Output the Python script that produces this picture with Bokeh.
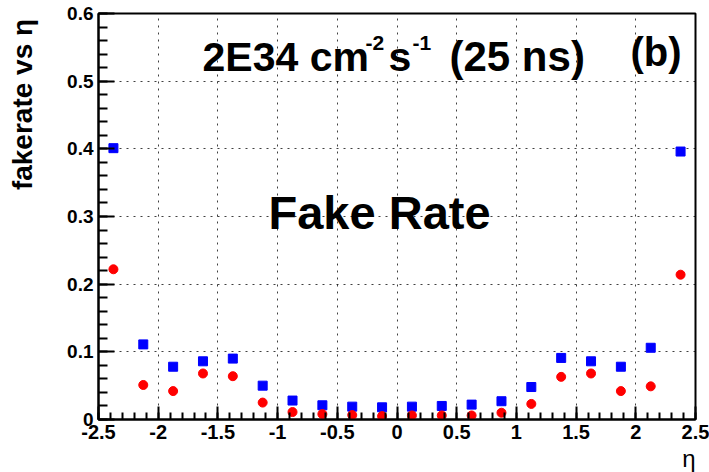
import numpy as np
from bokeh.plotting import figure
from bokeh.models import FixedTicker, Label, Range1d, Title
from bokeh.embed import file_html
from bokeh.resources import INLINE

# ---- data ----
eta = [-2.375, -2.125, -1.875, -1.625, -1.375, -1.125, -0.875, -0.625, -0.375, -0.125,
       0.125, 0.375, 0.625, 0.875, 1.125, 1.375, 1.625, 1.875, 2.125, 2.375]
fake_blue = [0.401, 0.111, 0.078, 0.086, 0.090, 0.050, 0.028, 0.021, 0.019, 0.018,
             0.019, 0.020, 0.022, 0.027, 0.048, 0.091, 0.086, 0.078, 0.106, 0.396]
fake_red = [0.222, 0.051, 0.042, 0.068, 0.064, 0.025, 0.011, 0.008, 0.0065, 0.005,
            0.006, 0.006, 0.006, 0.010, 0.023, 0.063, 0.068, 0.042, 0.049, 0.214]
x_ticks = [-2.5, -2.0, -1.5, -1.0, -0.5, 0.0, 0.5, 1.0, 1.5, 2.0, 2.5]
x_tick_labels = ["-2.5", "-2", "-1.5", "-1", "-0.5", "0", "0.5", "1", "1.5", "2", "2.5"]
y_ticks = [0.0, 0.1, 0.2, 0.3, 0.4, 0.5, 0.6]
y_tick_labels = ["0", "0.1", "0.2", "0.3", "0.4", "0.5", "0.6"]

# ---- geometry (window pixels; the figure sits at the page origin) ----
W, H = 709, 472
FL, FR, FT, FB = 98, 695, 13, 422   # frame edges
X0, X1, Y0, Y1 = -2.5, 2.5, 0.0, 0.6

def wx(px):
    return X0 + (px - FL) / (FR - FL) * (X1 - X0)

def wy(py):
    return Y0 + (FB - py) / (FB - FT) * (Y1 - Y0)

FONT = "Liberation Sans"

p = figure(width=W, height=H, x_range=Range1d(X0, X1), y_range=Range1d(Y0, Y1),
           output_backend="svg", toolbar_location=None,
           min_border_left=FL, min_border_right=W - FR,
           min_border_top=FT, min_border_bottom=H - FB)
p.background_fill_color = "white"
p.border_fill_color = "white"
p.outline_line_color = "black"
p.outline_line_width = 2

x_minor = [float(v) for v in np.round(np.arange(-2.5, 2.5001, 0.1), 3)]
y_minor = [float(v) for v in np.round(np.arange(0.0, 0.6001, 0.02), 3)]
p.xaxis.ticker = FixedTicker(ticks=x_ticks, minor_ticks=x_minor)
p.yaxis.ticker = FixedTicker(ticks=y_ticks, minor_ticks=y_minor)
p.xgrid.ticker = FixedTicker(ticks=x_ticks)
p.ygrid.ticker = FixedTicker(ticks=y_ticks)
p.xaxis.major_label_overrides = {t: l for t, l in zip(x_ticks, x_tick_labels)}
p.yaxis.major_label_overrides = {t: l for t, l in zip(y_ticks, y_tick_labels)}

for ax in (p.xaxis, p.yaxis):
    ax.axis_line_color = "black"
    ax.axis_line_width = 2
    ax.major_tick_line_color = "black"
    ax.major_tick_line_width = 2
    ax.minor_tick_line_color = "black"
    ax.minor_tick_line_width = 2
    ax.major_tick_out = 0
    ax.minor_tick_out = 0
    ax.major_label_text_font = FONT
    ax.major_label_text_font_style = "bold"
    ax.major_label_text_color = "black"
    ax.major_label_standoff = 5
p.yaxis.major_label_text_font_size = "19px"
p.xaxis.major_label_text_font_size = "20px"
p.yaxis.major_tick_in = 16
p.yaxis.minor_tick_in = 9
p.xaxis.major_tick_in = 13
p.xaxis.minor_tick_in = 7

# y-axis title: centred label, lifted towards the top with leading blank space
p.yaxis.axis_label = "\u2003" * 8 + "fakerate vs η"
p.yaxis.axis_label_text_font = FONT
p.yaxis.axis_label_text_font_style = "bold"
p.yaxis.axis_label_text_font_size = "28px"
p.yaxis.axis_label_text_color = "black"
p.yaxis.axis_label_standoff = 26

for g in (p.xgrid, p.ygrid):
    g.grid_line_color = "black"
    g.grid_line_alpha = 0.75
    g.grid_line_width = 1
    g.grid_line_dash = "2 5"

p.scatter(eta, fake_blue, marker="square", size=9, color="blue")
p.scatter(eta, fake_red, marker="circle", size=9, color="red")

def lab(text, px, py, size, **kw):
    # py is the wanted baseline; the renderer draws it about 0.4 em lower
    p.add_layout(Label(x=wx(px), y=wy(py - 0.4 * size), text=text, text_font=FONT,
                       text_font_style=kw.pop("style", "bold"),
                       text_font_size=f"{size}px", text_color="black",
                       text_baseline="alphabetic",
                       text_align=kw.pop("align", "left"), **kw))

# header text
lab("2E34 cm", 202, 73, 41)
lab("-2", 365, 51, 21)
lab("s", 388, 73, 41)
lab("-1", 412, 51, 21)
lab("(25 ns)", 449, 73, 42)
lab("(b)", 630, 68, 40)
lab("Fake Rate", 268, 232, 47)

xtitle = Title(text="η", align="right", text_font=FONT, text_font_style="normal",
               text_font_size="24px", text_color="black", standoff=2)
p.add_layout(xtitle, "below")

open("out.html", "w").write(file_html(p, INLINE))
